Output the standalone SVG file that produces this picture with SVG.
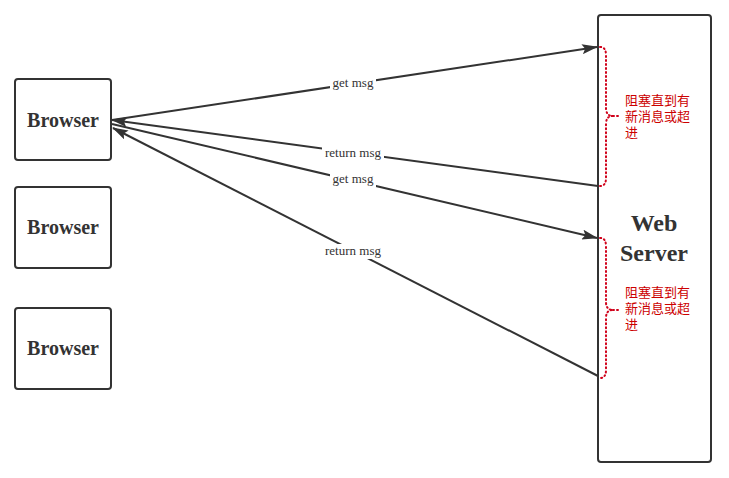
<svg xmlns="http://www.w3.org/2000/svg" width="729" height="478" viewBox="0 0 729 478">
<defs>
<style>
.box{fill:#fff;stroke:#333;stroke-width:2}
.nt{font-family:"Liberation Serif",serif;font-weight:bold;fill:#333;text-anchor:middle}
.ln{stroke:#333;stroke-width:2;fill:none}
.lb{font-family:"Liberation Serif",serif;font-size:13px;fill:#333;text-anchor:middle}
.br{stroke:#d0021b;stroke-width:2;stroke-dasharray:1 3;fill:none;stroke-linecap:round}
.bt{font-family:"Liberation Serif","Noto Sans CJK SC",serif;font-size:13px;fill:#c00}
.lbbg{fill:#fff}
</style>
<marker id="ah2" viewBox="0 0 16 10" refX="15" refY="5" markerWidth="16" markerHeight="10" markerUnits="userSpaceOnUse" orient="auto">
<path d="M0,0 L16,5 L0,10 L3,5 z" fill="#333"/>
</marker>
</defs>
<g id="browser1"><rect class="box" x="15" y="79" width="96" height="81" rx="3"/><text class="nt" x="63" y="127" font-size="20">Browser</text></g>
<g id="browser2"><rect class="box" x="15" y="187" width="96" height="81" rx="3"/><text class="nt" x="63" y="234" font-size="20">Browser</text></g>
<g id="browser3"><rect class="box" x="15" y="308" width="96" height="81" rx="3"/><text class="nt" x="63" y="355" font-size="20">Browser</text></g>
<g id="webserver"><rect class="box" x="598" y="15" width="113" height="447" rx="3"/><text class="nt" x="654" y="231" font-size="24">Web</text><text class="nt" x="654" y="261" font-size="24">Server</text></g>
<g id="connectors">
<path class="ln" d="M112,120 L597,47" marker-end="url(#ah2)"/>
<path class="ln" d="M598,186 L112,120" marker-end="url(#ah2)"/>
<path class="ln" d="M112,124 L597,238" marker-end="url(#ah2)"/>
<path class="ln" d="M598,376 L113,128" marker-end="url(#ah2)"/>
<rect class="lbbg" x="330" y="76" width="46" height="15"/>
<text class="lb" x="353" y="87">get msg</text>
<rect class="lbbg" x="322" y="146" width="62" height="15"/>
<text class="lb" x="353" y="157">return msg</text>
<rect class="lbbg" x="330" y="172" width="46" height="15"/>
<text class="lb" x="353" y="183">get msg</text>
<rect class="lbbg" x="322" y="244" width="62" height="15"/>
<text class="lb" x="353" y="255">return msg</text>
</g>
<g id="note1">
<path class="br" d="M600,47 Q606,47 606,55 L606,108 Q606,116 613,116 Q606,116 606,124 L606,178 Q606,186 600,186"/>
<path class="br" d="M613,116 L618,116"/>
<text class="bt" x="625" y="105">阻塞直到有</text>
<text class="bt" x="625" y="121">新消息或超</text>
<text class="bt" x="625" y="137">进</text>
</g>
<g id="note2">
<path class="br" d="M600,238 Q606,238 606,246 L606,302 Q606,310 613,310 Q606,310 606,318 L606,370 Q606,378 600,378"/>
<path class="br" d="M613,310 L618,310"/>
<text class="bt" x="625" y="297">阻塞直到有</text>
<text class="bt" x="625" y="313">新消息或超</text>
<text class="bt" x="625" y="329">进</text>
</g>
</svg>
